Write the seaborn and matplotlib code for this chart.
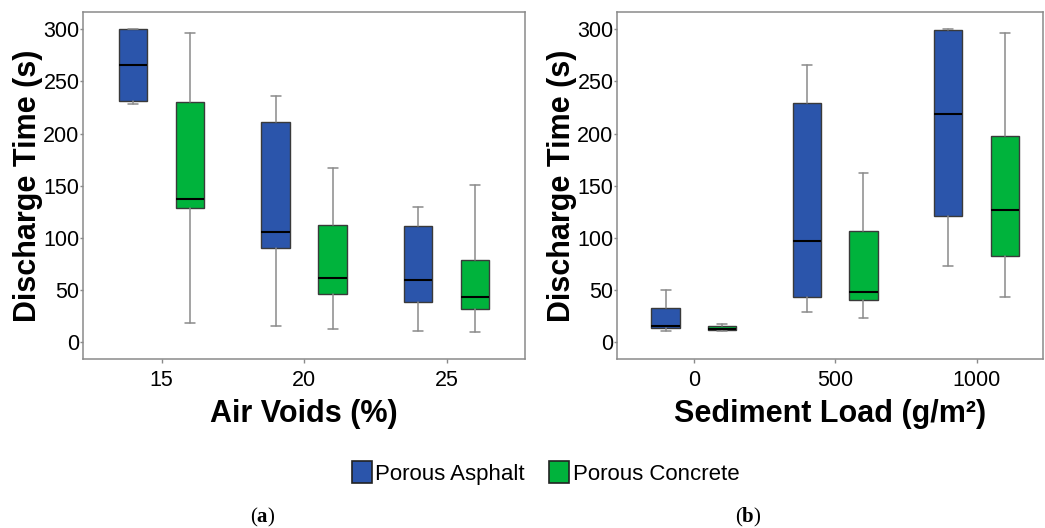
import matplotlib
matplotlib.use("Agg")
import matplotlib.pyplot as plt
import seaborn as sns
from matplotlib.patches import Patch

# ---------------- data (box statistics) ----------------
series = ["Porous Asphalt", "Porous Concrete"]
colors = ["#2B55AB", "#00B33C"]

air_voids = ["15", "20", "25"]
av_pa_low = [228, 15, 10]
av_pa_q1 = [231, 90, 38]
av_pa_med = [266, 105, 59]
av_pa_q3 = [300, 211, 111]
av_pa_high = [300, 236, 129]

av_pc_low = [18, 12, 9]
av_pc_q1 = [128, 46, 31]
av_pc_med = [137, 61, 43]
av_pc_q3 = [230, 112, 79]
av_pc_high = [297, 167, 151]

sediment = ["0", "500", "1000"]
sl_pa_low = [10, 29, 73]
sl_pa_q1 = [13, 43, 121]
sl_pa_med = [15, 97, 219]
sl_pa_q3 = [32, 229, 299]
sl_pa_high = [50, 266, 300]

sl_pc_low = [10, 23, 43]
sl_pc_q1 = [11, 40, 82]
sl_pc_med = [12, 48, 127]
sl_pc_q3 = [15, 106, 198]
sl_pc_high = [17, 162, 297]

y_ticks = [0, 50, 100, 150, 200, 250, 300]

# ---------------- style ----------------
sns.set_theme(style="white")
plt.rcParams["font.family"] = ["Liberation Sans", "DejaVu Sans"]
plt.rcParams["text.color"] = "black"
plt.rcParams["axes.labelcolor"] = "black"
plt.rcParams["xtick.color"] = "black"
plt.rcParams["ytick.color"] = "black"

fig = plt.figure(figsize=(10.45, 5.28), dpi=100)
ax1 = fig.add_axes([0.0794, 0.320, 0.423, 0.657])
ax2 = fig.add_axes([0.5904, 0.320, 0.4077, 0.657])


def make_stats(low, q1, med, q3, high):
    return [dict(whislo=a, q1=b, med=c, q3=d, whishi=e, fliers=[])
            for a, b, c, d, e in zip(low, q1, med, q3, high)]


def draw(ax, cats, groups, xlabel, xlim):
    n = len(cats)
    offsets = [-0.2, 0.2]
    for (stats, color), off in zip(groups, offsets):
        pos = [i + off for i in range(n)]
        ax.bxp(stats, positions=pos, widths=0.2, capwidths=0.07,
               patch_artist=True, showfliers=False, manage_ticks=False,
               boxprops=dict(facecolor=color, edgecolor="#3a3a3a", linewidth=1.0),
               medianprops=dict(color="black", linewidth=1.5),
               whiskerprops=dict(color="#8a8a8a", linewidth=1.1),
               capprops=dict(color="#8a8a8a", linewidth=1.1))
    ax.set_xticks(range(n))
    ax.set_xticklabels(cats)
    ax.set_xlim(*xlim)
    ax.set_ylim(-16.6, 316.6)
    ax.set_yticks(y_ticks)
    ax.set_yticklabels([str(v) for v in y_ticks])
    ax.tick_params(axis="both", labelsize=15.5, colors="#8a8a8a", labelcolor="black")
    ax.tick_params(axis="x", length=3, width=1, pad=5, direction="out", bottom=True)
    ax.tick_params(axis="y", length=2, width=1, pad=0.5, direction="out", left=True)
    for s in ax.spines.values():
        s.set_color("#8a8a8a")
        s.set_linewidth(1.1)
    ax.set_xlabel(xlabel, fontsize=22, fontweight="bold", labelpad=6, color="black")
    ax.set_ylabel("Discharge Time (s)", fontsize=22, fontweight="bold", labelpad=0,
                  color="black")


draw(ax1, air_voids,
     [(make_stats(av_pa_low, av_pa_q1, av_pa_med, av_pa_q3, av_pa_high), colors[0]),
      (make_stats(av_pc_low, av_pc_q1, av_pc_med, av_pc_q3, av_pc_high), colors[1])],
     "Air Voids (%)", (-0.552, 2.55))
draw(ax2, sediment,
     [(make_stats(sl_pa_low, sl_pa_q1, sl_pa_med, sl_pa_q3, sl_pa_high), colors[0]),
      (make_stats(sl_pc_low, sl_pc_q1, sl_pc_med, sl_pc_q3, sl_pc_high), colors[1])],
     "Sediment Load (g/m²)", (-0.544, 2.47))

handles = [Patch(facecolor=c, edgecolor="#222222", linewidth=1.2) for c in colors]
leg = fig.legend(handles, series, loc="center", bbox_to_anchor=(0.522, 0.104),
                 ncol=2, frameon=False, fontsize=16, handlelength=0.9, handleheight=1.1,
                 handletextpad=0.15, columnspacing=1.1)
for t in leg.get_texts():
    t.set_color("black")

# panel captions "(a)" / "(b)" with bold letter
fig.canvas.draw()
renderer = fig.canvas.get_renderer()
for cx, letter in [(262, "a"), (748, "b")]:
    parts = [("(", "normal"), (letter, "bold"), (")", "normal")]
    texts = []
    for s, w in parts:
        t = fig.text(0, 0.02, s, fontsize=15, fontweight=w, family="Liberation Serif",
                     ha="left", va="center", color="black")
        texts.append(t)
    widths = [t.get_window_extent(renderer).width for t in texts]
    total = sum(widths)
    start = cx - total / 2
    for t, w in zip(texts, widths):
        t.set_x(start / 1045)
        start += w

fig.savefig("out.png", dpi=100)
